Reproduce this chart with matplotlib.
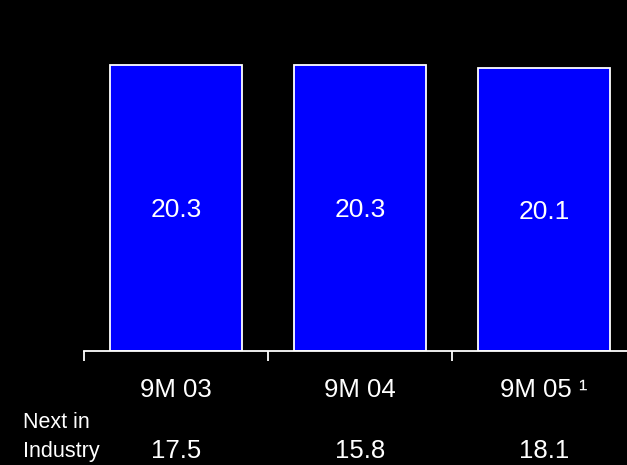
import matplotlib
matplotlib.use("Agg")
import matplotlib.pyplot as plt

plt.rcParams['font.family'] = ['Liberation Sans', 'DejaVu Sans']

# data
periods = ["9M 03", "9M 04", "9M 05 \u00b9"]
values = [20.3, 20.3, 20.1]
industry = [17.5, 15.8, 18.1]

W, H = 627, 465
fig = plt.figure(figsize=(W/100, H/100), dpi=100, facecolor='black')
# axis runs slightly past the right edge of the picture
ax = fig.add_axes([84/W, (H-351)/H, 552/W, 338/H])
ax.set_facecolor('black')

x = range(len(periods))
bars = ax.bar(x, values, width=0.72, color='#0000ff', edgecolor='white', linewidth=1.3)
for b, v in zip(bars, values):
    ax.text(b.get_x() + b.get_width()/2, v/2 - 0.66, f"{v:.1f}", ha='center', va='baseline',
            color='white', fontsize=19)

ax.set_xlim(-0.5, len(periods) - 0.5)
ax.set_ylim(0, 24)

for s in ['top', 'right', 'left']:
    ax.spines[s].set_visible(False)
ax.spines['bottom'].set_color('white')
ax.spines['bottom'].set_linewidth(1.3)
ax.set_yticks([])
ax.set_xticks([i - 0.5 for i in range(len(periods) + 1)])
ax.set_xticklabels([])
ax.tick_params(axis='x', colors='white', length=7, width=1.3, direction='out')

for i, p in enumerate(periods):
    ax.text(i, -3.3, p, ha='center', va='baseline', color='white', fontsize=18.5)
    ax.text(i, -7.6, f"{industry[i]:.1f}", ha='center', va='baseline', color='white', fontsize=18.5)

fig.text(23/W, 1 - 428/H, "Next in", ha='left', va='baseline', color='white', fontsize=15.5)
fig.text(23/W, 1 - 457/H, "Industry", ha='left', va='baseline', color='white', fontsize=15.5)

fig.savefig("out.png", dpi=100, facecolor='black')
